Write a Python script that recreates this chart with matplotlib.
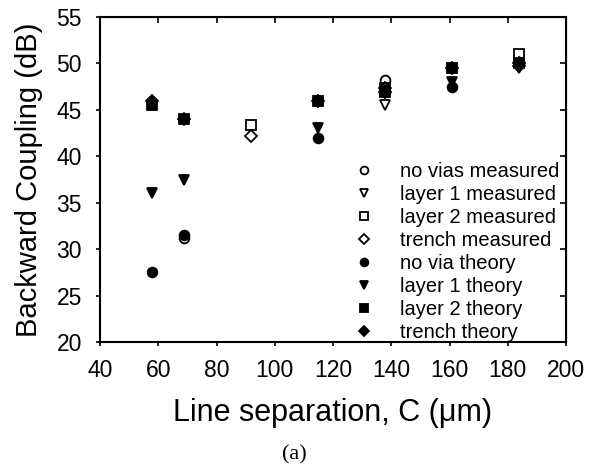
import numpy as np
import matplotlib
matplotlib.use("Agg")
import matplotlib.pyplot as plt

nan = np.nan

# line separation (um)
separation = [58, 69, 92, 115, 138, 161, 184]

no_vias_meas = [nan, 31.2, nan, nan, 48.2, nan, 50.1]
layer1_meas = [nan, nan, nan, nan, 45.5, nan, 49.5]
layer2_meas = [nan, nan, 43.4, nan, 47.4, nan, 51.0]
trench_meas = [nan, nan, 42.2, nan, 47.3, nan, 49.7]

no_via_theory = [27.5, 31.5, nan, 42.0, 46.9, 47.5, 49.9]
layer1_theory = [36.0, 37.4, nan, 43.0, 46.9, 48.0, 49.9]
layer2_theory = [45.5, 44.0, nan, 46.0, 46.9, 49.5, 50.0]
trench_theory = [46.0, 44.0, nan, 46.0, 46.9, 49.5, 50.0]

plt.rcParams["font.family"] = ["Liberation Sans", "DejaVu Sans"]

fig = plt.figure(figsize=(5.89, 4.68), dpi=100)
ax = fig.add_axes([0.1698, 0.2692, 0.7912, 0.6945])

series = [
    (no_vias_meas, "o", 7, "none", "no vias measured"),
    (layer1_meas, "v", 7, "none", "layer 1 measured"),
    (layer2_meas, "s", 6.5, "none", "layer 2 measured"),
    (trench_meas, "D", 6, "none", "trench measured"),
    (no_via_theory, "o", 7, "black", "no via theory"),
    (layer1_theory, "v", 7, "black", "layer 1 theory"),
    (layer2_theory, "s", 6.5, "black", "layer 2 theory"),
    (trench_theory, "D", 6, "black", "trench theory"),
]

for vals, m, ms, fc, lab in series:
    ax.plot(separation, vals, linestyle="none", marker=m, markersize=ms,
            markerfacecolor=fc, markeredgecolor="black", markeredgewidth=1.3,
            label=lab)

ax.set_xlim(40, 200)
ax.set_ylim(20, 55)
ax.set_xticks(np.arange(40, 201, 20))
ax.set_yticks(np.arange(20, 56, 5))
ax.tick_params(direction="out", length=3, width=1.2, labelsize=16.5)
ax.tick_params(axis="x", pad=9)
ax.tick_params(axis="y", pad=10)
for s in ax.spines.values():
    s.set_linewidth(1.5)

# inward ticks on top and right
top = ax.secondary_xaxis("top")
top.set_xticks(np.arange(40, 201, 20))
top.tick_params(direction="in", length=4.5, width=1.2, labeltop=False)
right = ax.secondary_yaxis("right")
right.set_yticks(np.arange(20, 56, 5))
right.tick_params(direction="in", length=4.5, width=1.2, labelright=False)

ax.set_xlabel("Line separation, C (\u03bcm)", fontsize=22, labelpad=12)
ax.set_ylabel("Backward Coupling (dB)", fontsize=21, labelpad=10)

ax.legend(loc="lower right", bbox_to_anchor=(0.985, 0.0), frameon=False,
          fontsize=14.5, labelspacing=0.2, handletextpad=1.0, borderpad=0.0,
          borderaxespad=0.0, handlelength=1.5, markerscale=0.8)

fig.text(0.50, 0.018, "(a)", fontsize=16, ha="center",
         family=["Liberation Serif", "DejaVu Serif"])

fig.savefig("out.png", dpi=100)
